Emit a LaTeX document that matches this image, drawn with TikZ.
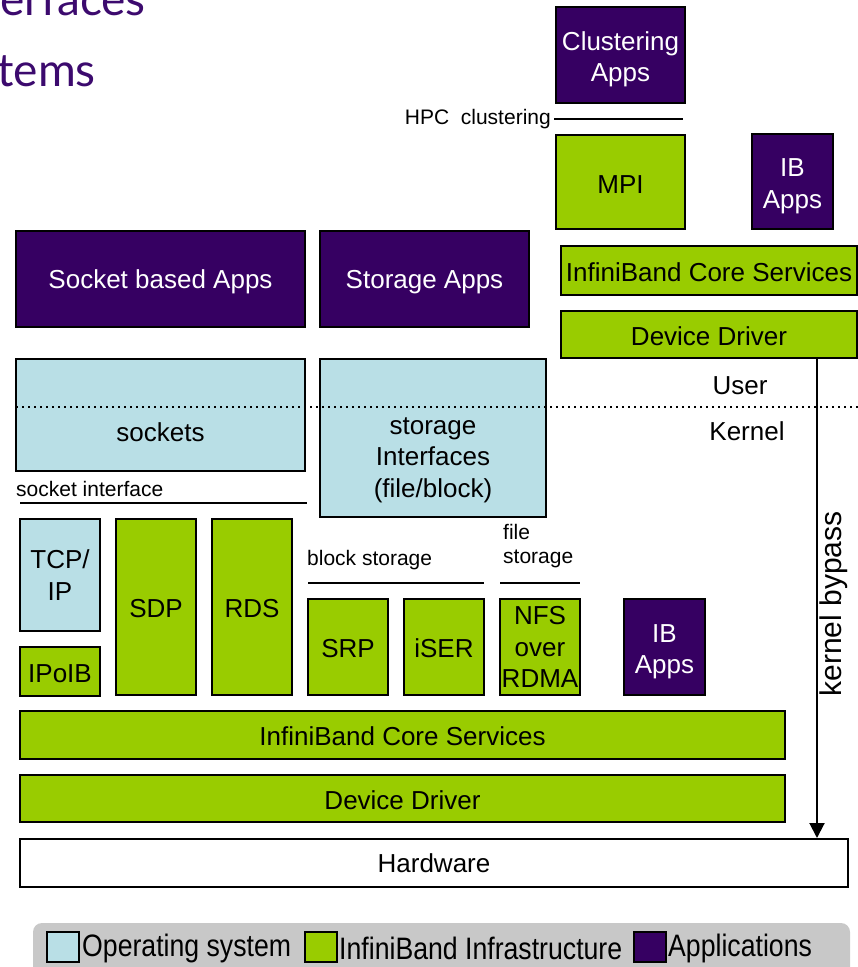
\documentclass[tikz,border=0pt]{standalone}
\usepackage{fontspec}
\setmainfont{Liberation Sans}
\newfontfamily\titlefont{Lato}
\usetikzlibrary{arrows.meta}
\definecolor{appc}{RGB}{54,0,98}
\definecolor{ibc}{RGB}{153,204,0}
\definecolor{osc}{RGB}{185,223,230}
\definecolor{legc}{RGB}{200,200,200}
\definecolor{titc}{RGB}{60,10,110}
\begin{document}
\begin{tikzpicture}[x=1pt,y=-1pt,
  base/.style={draw=black, line width=2pt, rectangle, inner sep=0pt, font=\fontsize{26}{31.5}\selectfont, align=center},
  app/.style={base, fill=appc, text=white, text height=25pt},
  apptwo/.style={base, fill=appc, text=white, text height=59pt, text depth=6pt},
  ib/.style={base, fill=ibc, text height=22pt},
  os/.style={base, fill=osc},
  hwbox/.style={base, fill=white},
  lbl/.style={font=\fontsize{21}{24}\selectfont, inner sep=0pt, align=left},
  big/.style={font=\fontsize{26}{31.5}\selectfont, inner sep=0pt, align=center},
  rule/.style={line width=2.5pt},
  legsq/.style={draw=black, line width=2pt, minimum width=32pt, minimum height=30pt, inner sep=0pt},
  legtxt/.style={anchor=west, inner sep=0pt, font=\fontsize{31}{36}\selectfont},
  ttl/.style={anchor=base east, inner sep=0pt, text=titc, font=\titlefont\fontsize{46}{50}\selectfont}
]
\useasboundingbox (0,0) rectangle (858,967);
\clip (0,0) rectangle (858,967);

% title fragments
\node[ttl] (t1) at (146,15) {erfaces};
\node[ttl] (t2) at (96,86) {tems};

% right column
\node[apptwo, minimum width=129pt, minimum height=96pt] (clus) at (620.5,55) {Clustering\\Apps};
\node[ib, minimum width=129pt, minimum height=94pt] (mpi) at (620.5,182) {MPI};
\node[apptwo, minimum width=81pt, minimum height=95pt] (ibapps1) at (792.5,181.5) {IB\\Apps};
\node[ib, minimum width=296pt, minimum height=49pt] (ibcs1) at (709,270.5) {InfiniBand Core Services};
\node[ib, minimum width=296pt, minimum height=47pt] (dd1) at (709,334.5) {Device Driver};

\coordinate (hpcl) at (554,119);
\coordinate (hpcr) at (683,119);
\draw[rule] (hpcl) -- (hpcr);
\node[lbl, anchor=east] (hpc) at (551,119) {HPC\ \ clustering};

% apps
\node[app, minimum width=289pt, minimum height=96pt] (sockapps) at (160.5,279) {Socket based Apps};
\node[app, minimum width=209pt, minimum height=96pt] (storapps) at (424.5,279) {Storage Apps};

% OS interfaces
\node[os, minimum width=289pt, minimum height=112pt] (sockets) at (160.5,415) {};
\node[big] (socketstxt) at (160.5,432) {sockets};
\node[os, minimum width=226pt, minimum height=158pt] (storif) at (433,438) {};
\node[big] (storiftxt) at (433,460) {storage\\Interfaces\\(file/block)};

% user / kernel
\coordinate (dl) at (16,407);
\coordinate (dr) at (858,407);
\draw[line width=1.6pt, dash pattern=on 1.6pt off 4.4pt] (dl) -- (dr);
\node[big] (user) at (740,386) {User};
\node[big] (kernel) at (747,431) {Kernel};

% socket interface
\node[lbl, anchor=west] (sitxt) at (16,489) {socket interface};
\coordinate (sil) at (20,503);
\coordinate (sir) at (307,503);
\draw[rule] (sil) -- (sir);

\node[os, minimum width=80pt, minimum height=112pt] (tcp) at (60,575) {TCP/\\IP};
\node[ib, minimum width=80pt, minimum height=49pt] (ipoib) at (60,671.5) {IPoIB};
\node[ib, minimum width=80pt, minimum height=176pt] (sdp) at (156,607) {SDP};
\node[ib, minimum width=80pt, minimum height=176pt] (rds) at (252,607) {RDS};

% storage
\node[lbl, anchor=west] (bstxt) at (307,560) {block storage};
\coordinate (bsl) at (308,583);
\coordinate (bsr) at (484,583);
\draw[rule] (bsl) -- (bsr);
\node[lbl, anchor=west] (fstxt) at (503,546) {file\\storage};
\coordinate (fsl) at (500,583);
\coordinate (fsr) at (580,583);
\draw[rule] (fsl) -- (fsr);

\node[ib, minimum width=80pt, minimum height=96pt] (srp) at (348,647) {SRP};
\node[ib, minimum width=80pt, minimum height=96pt] (iser) at (444,647) {iSER};
\node[base, fill=ibc, minimum width=80pt, minimum height=96pt] (nfs) at (540,647) {NFS\\over\\RDMA};
\node[apptwo, minimum width=81pt, minimum height=96pt] (ibapps2) at (664.5,647) {IB\\Apps};

% bottom layers
\node[ib, minimum width=765pt, minimum height=48pt] (ibcs2) at (402.5,735) {InfiniBand Core Services};
\node[ib, minimum width=765pt, minimum height=47pt] (dd2) at (402.5,798.5) {Device Driver};
\node[hwbox, minimum width=828pt, minimum height=48pt] (hw) at (434,863) {Hardware};

% kernel bypass
\coordinate (kb) at (817,0);
\draw[line width=2pt, -{Triangle[length=15pt,width=15pt]}] (dd1.south -| kb) -- (hw.north -| kb);
\node[big, rotate=90, font=\fontsize{30}{36}\selectfont] (kbtxt) at (834,604) {kernel bypass};

% legend
\fill[legc, rounded corners=9pt] (33,923) rectangle (850,985);
\node[legsq, fill=osc] (l1) at (63,947) {};
\node[legtxt] (l1t) at (82,948) {\scalebox{0.86}[1]{Operating system}};
\node[legsq, fill=ibc] (l2) at (321,947) {};
\node[legtxt] (l2t) at (339,948) {\scalebox{0.86}[1]{InfiniBand Infrastructure}};
\node[legsq, fill=appc] (l3) at (650,947) {};
\node[legtxt] (l3t) at (668,948) {\scalebox{0.86}[1]{Applications}};
\end{tikzpicture}
\end{document}
